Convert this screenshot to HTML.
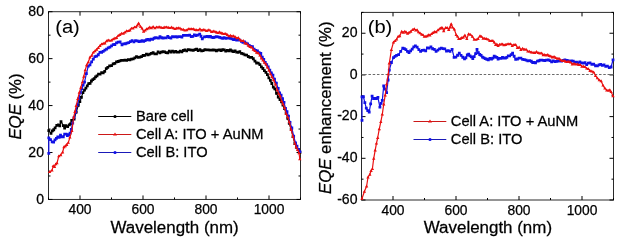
<!DOCTYPE html>
<html><head><meta charset="utf-8"><style>html,body{margin:0;padding:0;background:#fff;width:619px;height:241px;overflow:hidden}svg{display:block;will-change:transform}text{font-family:"Liberation Sans",sans-serif}</style></head>
<body><svg width="619" height="241" viewBox="0 0 619 241">
<rect width="619" height="241" fill="#fff"/>
<rect x="48.5" y="11.7" width="252.0" height="187.75" fill="none" stroke="#2a2a2a" stroke-width="1"/>
<line x1="48.50" y1="199.45" x2="48.50" y2="197.45" stroke="#000" stroke-width="1"/>
<line x1="48.50" y1="11.7" x2="48.50" y2="13.7" stroke="#000" stroke-width="1"/>
<line x1="80.00" y1="199.45" x2="80.00" y2="195.45" stroke="#000" stroke-width="1"/>
<line x1="80.00" y1="11.7" x2="80.00" y2="15.7" stroke="#000" stroke-width="1"/>
<text transform="translate(80.00,214.40) scale(1.0,1)" stroke="#000" fill="#000" stroke-width="0.25" font-size="13.8" text-anchor="middle" >400</text>
<line x1="111.50" y1="199.45" x2="111.50" y2="197.45" stroke="#000" stroke-width="1"/>
<line x1="111.50" y1="11.7" x2="111.50" y2="13.7" stroke="#000" stroke-width="1"/>
<line x1="143.00" y1="199.45" x2="143.00" y2="195.45" stroke="#000" stroke-width="1"/>
<line x1="143.00" y1="11.7" x2="143.00" y2="15.7" stroke="#000" stroke-width="1"/>
<text transform="translate(143.00,214.40) scale(1.0,1)" stroke="#000" fill="#000" stroke-width="0.25" font-size="13.8" text-anchor="middle" >600</text>
<line x1="174.50" y1="199.45" x2="174.50" y2="197.45" stroke="#000" stroke-width="1"/>
<line x1="174.50" y1="11.7" x2="174.50" y2="13.7" stroke="#000" stroke-width="1"/>
<line x1="206.00" y1="199.45" x2="206.00" y2="195.45" stroke="#000" stroke-width="1"/>
<line x1="206.00" y1="11.7" x2="206.00" y2="15.7" stroke="#000" stroke-width="1"/>
<text transform="translate(206.00,214.40) scale(1.0,1)" stroke="#000" fill="#000" stroke-width="0.25" font-size="13.8" text-anchor="middle" >800</text>
<line x1="237.50" y1="199.45" x2="237.50" y2="197.45" stroke="#000" stroke-width="1"/>
<line x1="237.50" y1="11.7" x2="237.50" y2="13.7" stroke="#000" stroke-width="1"/>
<line x1="269.00" y1="199.45" x2="269.00" y2="195.45" stroke="#000" stroke-width="1"/>
<line x1="269.00" y1="11.7" x2="269.00" y2="15.7" stroke="#000" stroke-width="1"/>
<text transform="translate(269.00,214.40) scale(1.0,1)" stroke="#000" fill="#000" stroke-width="0.25" font-size="13.8" text-anchor="middle" >1000</text>
<line x1="300.50" y1="199.45" x2="300.50" y2="197.45" stroke="#000" stroke-width="1"/>
<line x1="300.50" y1="11.7" x2="300.50" y2="13.7" stroke="#000" stroke-width="1"/>
<line x1="48.5" y1="199.45" x2="52.5" y2="199.45" stroke="#000" stroke-width="1"/>
<line x1="300.5" y1="199.45" x2="296.5" y2="199.45" stroke="#000" stroke-width="1"/>
<text transform="translate(44.00,204.05) scale(1.02,1)" stroke="#000" fill="#000" stroke-width="0.25" font-size="13.8" text-anchor="end" >0</text>
<line x1="48.5" y1="175.98" x2="50.5" y2="175.98" stroke="#000" stroke-width="1"/>
<line x1="300.5" y1="175.98" x2="298.5" y2="175.98" stroke="#000" stroke-width="1"/>
<line x1="48.5" y1="152.51" x2="52.5" y2="152.51" stroke="#000" stroke-width="1"/>
<line x1="300.5" y1="152.51" x2="296.5" y2="152.51" stroke="#000" stroke-width="1"/>
<text transform="translate(44.00,157.11) scale(1.02,1)" stroke="#000" fill="#000" stroke-width="0.25" font-size="13.8" text-anchor="end" >20</text>
<line x1="48.5" y1="129.04" x2="50.5" y2="129.04" stroke="#000" stroke-width="1"/>
<line x1="300.5" y1="129.04" x2="298.5" y2="129.04" stroke="#000" stroke-width="1"/>
<line x1="48.5" y1="105.57" x2="52.5" y2="105.57" stroke="#000" stroke-width="1"/>
<line x1="300.5" y1="105.57" x2="296.5" y2="105.57" stroke="#000" stroke-width="1"/>
<text transform="translate(44.00,110.17) scale(1.02,1)" stroke="#000" fill="#000" stroke-width="0.25" font-size="13.8" text-anchor="end" >40</text>
<line x1="48.5" y1="82.11" x2="50.5" y2="82.11" stroke="#000" stroke-width="1"/>
<line x1="300.5" y1="82.11" x2="298.5" y2="82.11" stroke="#000" stroke-width="1"/>
<line x1="48.5" y1="58.64" x2="52.5" y2="58.64" stroke="#000" stroke-width="1"/>
<line x1="300.5" y1="58.64" x2="296.5" y2="58.64" stroke="#000" stroke-width="1"/>
<text transform="translate(44.00,63.24) scale(1.02,1)" stroke="#000" fill="#000" stroke-width="0.25" font-size="13.8" text-anchor="end" >60</text>
<line x1="48.5" y1="35.17" x2="50.5" y2="35.17" stroke="#000" stroke-width="1"/>
<line x1="300.5" y1="35.17" x2="298.5" y2="35.17" stroke="#000" stroke-width="1"/>
<line x1="48.5" y1="11.70" x2="52.5" y2="11.70" stroke="#000" stroke-width="1"/>
<line x1="300.5" y1="11.70" x2="296.5" y2="11.70" stroke="#000" stroke-width="1"/>
<text transform="translate(44.00,16.30) scale(1.02,1)" stroke="#000" fill="#000" stroke-width="0.25" font-size="13.8" text-anchor="end" >80</text>
<path d="M48.80,130.66 L51.00,133.46 L52.37,130.87 L53.73,129.74 L55.10,127.85 L56.80,125.44 L58.50,124.85 L59.75,125.76 L61.00,121.63 L63.40,125.64 L64.65,127.98 L65.90,125.69 L67.60,126.61 L69.30,124.91 L70.50,123.80 L71.70,120.34 L74.10,119.04 L76.20,112.16 L78.30,105.34 L79.85,101.58 L81.40,97.31 L82.95,92.57 L84.50,90.16 L85.90,88.13 L87.30,85.88 L88.70,83.66 L90.07,83.42 L91.43,80.98 L92.80,79.69 L94.20,78.62 L95.60,76.95 L97.00,75.96 L98.55,74.21 L100.10,74.14 L101.65,72.70 L103.20,72.78 L104.73,71.35 L106.27,68.61 L107.80,67.34 L109.65,65.89 L111.50,65.64 L113.17,63.86 L114.85,63.38 L116.53,61.97 L118.20,61.51 L119.90,60.89 L121.60,60.43 L123.30,60.45 L125.00,60.05 L126.63,60.33 L128.27,59.63 L129.90,59.77 L131.56,59.19 L133.21,58.97 L134.87,57.94 L136.52,56.57 L138.18,57.37 L139.83,57.10 L141.49,56.54 L143.14,55.48 L144.80,55.28 L146.47,54.10 L148.13,54.94 L149.80,54.20 L151.47,53.40 L153.13,52.73 L154.80,53.87 L156.47,53.84 L158.13,51.94 L159.80,52.94 L161.39,52.18 L162.98,51.65 L164.56,51.84 L166.15,52.63 L167.74,52.76 L169.32,51.20 L170.91,52.17 L172.50,51.08 L174.06,52.14 L175.62,51.30 L177.19,52.14 L178.75,52.17 L180.31,51.16 L181.88,51.90 L183.44,50.51 L185.00,49.94 L186.66,50.79 L188.31,49.68 L189.97,49.89 L191.62,50.18 L193.28,50.45 L194.93,49.55 L196.59,49.25 L198.24,50.65 L199.90,49.56 L201.57,50.73 L203.23,50.61 L204.90,49.68 L206.57,49.83 L208.23,49.94 L209.90,50.16 L211.57,50.07 L213.23,50.01 L214.90,50.12 L216.45,50.76 L218.00,50.04 L219.55,49.96 L221.10,50.55 L222.65,49.74 L224.20,49.92 L225.75,51.20 L227.30,50.44 L228.86,50.74 L230.43,50.02 L231.99,51.00 L233.55,51.54 L235.11,50.79 L236.68,52.11 L238.24,52.39 L239.80,51.61 L241.50,53.38 L243.20,53.84 L244.90,54.97 L246.60,55.13 L248.30,56.52 L250.00,57.33 L251.65,57.36 L253.30,58.74 L254.95,61.17 L256.60,63.00 L258.25,63.04 L259.90,64.72 L261.40,66.97 L262.90,68.48 L264.40,70.56 L265.90,72.46 L267.40,74.56 L268.88,77.95 L270.36,80.40 L271.84,83.52 L273.32,87.21 L274.80,88.85 L276.53,93.26 L278.27,96.99 L280.00,99.66 L281.50,101.75 L283.00,105.05 L284.57,108.65 L286.15,113.19 L287.73,118.26 L289.30,123.36 L291.17,129.22 L293.03,136.55 L294.90,143.50 L296.57,147.30 L298.23,149.49 L299.90,152.50" fill="none" stroke="#000" stroke-width="1.2" stroke-linejoin="round"/>
<path d="M47.40,129.26h2.80v2.80h-2.80ZM49.60,132.06h2.80v2.80h-2.80ZM50.97,129.47h2.80v2.80h-2.80ZM52.33,128.34h2.80v2.80h-2.80ZM53.70,126.45h2.80v2.80h-2.80ZM55.40,124.04h2.80v2.80h-2.80ZM57.10,123.45h2.80v2.80h-2.80ZM58.35,124.36h2.80v2.80h-2.80ZM59.60,120.23h2.80v2.80h-2.80ZM62.00,124.24h2.80v2.80h-2.80ZM63.25,126.58h2.80v2.80h-2.80ZM64.50,124.29h2.80v2.80h-2.80ZM66.20,125.21h2.80v2.80h-2.80ZM67.90,123.51h2.80v2.80h-2.80ZM69.10,122.40h2.80v2.80h-2.80ZM70.30,118.94h2.80v2.80h-2.80ZM72.70,117.64h2.80v2.80h-2.80ZM74.80,110.76h2.80v2.80h-2.80ZM76.90,103.94h2.80v2.80h-2.80ZM78.45,100.18h2.80v2.80h-2.80ZM80.00,95.91h2.80v2.80h-2.80ZM81.55,91.17h2.80v2.80h-2.80ZM83.10,88.76h2.80v2.80h-2.80ZM84.50,86.73h2.80v2.80h-2.80ZM85.90,84.48h2.80v2.80h-2.80ZM87.30,82.26h2.80v2.80h-2.80ZM88.67,82.02h2.80v2.80h-2.80ZM90.03,79.58h2.80v2.80h-2.80ZM91.40,78.29h2.80v2.80h-2.80ZM92.80,77.22h2.80v2.80h-2.80ZM94.20,75.55h2.80v2.80h-2.80ZM95.60,74.56h2.80v2.80h-2.80ZM97.15,72.81h2.80v2.80h-2.80ZM98.70,72.74h2.80v2.80h-2.80ZM100.25,71.30h2.80v2.80h-2.80ZM101.80,71.38h2.80v2.80h-2.80ZM103.33,69.95h2.80v2.80h-2.80ZM104.87,67.21h2.80v2.80h-2.80ZM106.40,65.94h2.80v2.80h-2.80ZM108.25,64.49h2.80v2.80h-2.80ZM110.10,64.24h2.80v2.80h-2.80ZM111.77,62.46h2.80v2.80h-2.80ZM113.45,61.98h2.80v2.80h-2.80ZM115.12,60.57h2.80v2.80h-2.80ZM116.80,60.11h2.80v2.80h-2.80ZM118.50,59.49h2.80v2.80h-2.80ZM120.20,59.03h2.80v2.80h-2.80ZM121.90,59.05h2.80v2.80h-2.80ZM123.60,58.65h2.80v2.80h-2.80ZM125.23,58.93h2.80v2.80h-2.80ZM126.87,58.23h2.80v2.80h-2.80ZM128.50,58.37h2.80v2.80h-2.80ZM130.16,57.79h2.80v2.80h-2.80ZM131.81,57.57h2.80v2.80h-2.80ZM133.47,56.54h2.80v2.80h-2.80ZM135.12,55.17h2.80v2.80h-2.80ZM136.78,55.97h2.80v2.80h-2.80ZM138.43,55.70h2.80v2.80h-2.80ZM140.09,55.14h2.80v2.80h-2.80ZM141.74,54.08h2.80v2.80h-2.80ZM143.40,53.88h2.80v2.80h-2.80ZM145.07,52.70h2.80v2.80h-2.80ZM146.73,53.54h2.80v2.80h-2.80ZM148.40,52.80h2.80v2.80h-2.80ZM150.07,52.00h2.80v2.80h-2.80ZM151.73,51.33h2.80v2.80h-2.80ZM153.40,52.47h2.80v2.80h-2.80ZM155.07,52.44h2.80v2.80h-2.80ZM156.73,50.54h2.80v2.80h-2.80ZM158.40,51.54h2.80v2.80h-2.80ZM159.99,50.78h2.80v2.80h-2.80ZM161.58,50.25h2.80v2.80h-2.80ZM163.16,50.44h2.80v2.80h-2.80ZM164.75,51.23h2.80v2.80h-2.80ZM166.34,51.36h2.80v2.80h-2.80ZM167.92,49.80h2.80v2.80h-2.80ZM169.51,50.77h2.80v2.80h-2.80ZM171.10,49.68h2.80v2.80h-2.80ZM172.66,50.74h2.80v2.80h-2.80ZM174.22,49.90h2.80v2.80h-2.80ZM175.79,50.74h2.80v2.80h-2.80ZM177.35,50.77h2.80v2.80h-2.80ZM178.91,49.76h2.80v2.80h-2.80ZM180.47,50.50h2.80v2.80h-2.80ZM182.04,49.11h2.80v2.80h-2.80ZM183.60,48.54h2.80v2.80h-2.80ZM185.26,49.39h2.80v2.80h-2.80ZM186.91,48.28h2.80v2.80h-2.80ZM188.57,48.49h2.80v2.80h-2.80ZM190.22,48.78h2.80v2.80h-2.80ZM191.88,49.05h2.80v2.80h-2.80ZM193.53,48.15h2.80v2.80h-2.80ZM195.19,47.85h2.80v2.80h-2.80ZM196.84,49.25h2.80v2.80h-2.80ZM198.50,48.16h2.80v2.80h-2.80ZM200.17,49.33h2.80v2.80h-2.80ZM201.83,49.21h2.80v2.80h-2.80ZM203.50,48.28h2.80v2.80h-2.80ZM205.17,48.43h2.80v2.80h-2.80ZM206.83,48.54h2.80v2.80h-2.80ZM208.50,48.76h2.80v2.80h-2.80ZM210.17,48.67h2.80v2.80h-2.80ZM211.83,48.61h2.80v2.80h-2.80ZM213.50,48.72h2.80v2.80h-2.80ZM215.05,49.36h2.80v2.80h-2.80ZM216.60,48.64h2.80v2.80h-2.80ZM218.15,48.56h2.80v2.80h-2.80ZM219.70,49.15h2.80v2.80h-2.80ZM221.25,48.34h2.80v2.80h-2.80ZM222.80,48.52h2.80v2.80h-2.80ZM224.35,49.80h2.80v2.80h-2.80ZM225.90,49.04h2.80v2.80h-2.80ZM227.46,49.34h2.80v2.80h-2.80ZM229.03,48.62h2.80v2.80h-2.80ZM230.59,49.60h2.80v2.80h-2.80ZM232.15,50.14h2.80v2.80h-2.80ZM233.71,49.39h2.80v2.80h-2.80ZM235.28,50.71h2.80v2.80h-2.80ZM236.84,50.99h2.80v2.80h-2.80ZM238.40,50.21h2.80v2.80h-2.80ZM240.10,51.98h2.80v2.80h-2.80ZM241.80,52.44h2.80v2.80h-2.80ZM243.50,53.57h2.80v2.80h-2.80ZM245.20,53.73h2.80v2.80h-2.80ZM246.90,55.12h2.80v2.80h-2.80ZM248.60,55.93h2.80v2.80h-2.80ZM250.25,55.96h2.80v2.80h-2.80ZM251.90,57.34h2.80v2.80h-2.80ZM253.55,59.77h2.80v2.80h-2.80ZM255.20,61.60h2.80v2.80h-2.80ZM256.85,61.64h2.80v2.80h-2.80ZM258.50,63.32h2.80v2.80h-2.80ZM260.00,65.57h2.80v2.80h-2.80ZM261.50,67.08h2.80v2.80h-2.80ZM263.00,69.16h2.80v2.80h-2.80ZM264.50,71.06h2.80v2.80h-2.80ZM266.00,73.16h2.80v2.80h-2.80ZM267.48,76.55h2.80v2.80h-2.80ZM268.96,79.00h2.80v2.80h-2.80ZM270.44,82.12h2.80v2.80h-2.80ZM271.92,85.81h2.80v2.80h-2.80ZM273.40,87.45h2.80v2.80h-2.80ZM275.13,91.86h2.80v2.80h-2.80ZM276.87,95.59h2.80v2.80h-2.80ZM278.60,98.26h2.80v2.80h-2.80ZM280.10,100.35h2.80v2.80h-2.80ZM281.60,103.65h2.80v2.80h-2.80ZM283.18,107.25h2.80v2.80h-2.80ZM284.75,111.79h2.80v2.80h-2.80ZM286.33,116.86h2.80v2.80h-2.80ZM287.90,121.96h2.80v2.80h-2.80ZM289.77,127.82h2.80v2.80h-2.80ZM291.63,135.15h2.80v2.80h-2.80ZM293.50,142.10h2.80v2.80h-2.80ZM295.17,145.90h2.80v2.80h-2.80ZM296.83,148.09h2.80v2.80h-2.80ZM298.50,151.10h2.80v2.80h-2.80Z" fill="#000"/>
<path d="M48.80,153.28 L48.80,137.81 L50.50,139.61 L52.20,141.94 L53.60,142.09 L55.00,139.82 L56.40,138.31 L57.77,136.90 L59.13,137.34 L60.50,135.09 L61.90,136.97 L63.30,136.75 L64.70,134.06 L66.07,134.04 L67.43,135.57 L68.80,134.61 L70.05,133.15 L71.30,129.44 L72.70,123.18 L74.10,117.33 L75.70,112.03 L77.30,104.89 L78.85,98.77 L80.40,92.65 L81.77,88.86 L83.13,85.04 L84.50,82.16 L86.40,73.58 L88.30,66.11 L89.97,64.86 L91.63,61.82 L93.30,59.08 L94.97,56.68 L96.63,56.21 L98.30,54.77 L99.93,52.40 L101.57,52.24 L103.20,51.31 L104.88,50.17 L106.55,49.08 L108.23,47.85 L109.90,47.11 L111.55,45.88 L113.20,44.57 L114.85,44.48 L116.50,42.92 L118.20,42.16 L120.10,41.98 L122.00,44.73 L123.68,43.85 L125.36,43.76 L127.04,43.21 L128.72,42.72 L130.40,41.64 L132.12,40.57 L133.83,41.84 L135.55,40.76 L137.27,40.94 L138.98,41.54 L140.70,41.24 L142.19,40.76 L143.67,41.42 L145.16,40.54 L146.64,39.77 L148.13,39.33 L149.61,40.14 L151.10,39.16 L152.58,39.37 L154.07,38.27 L155.55,37.66 L157.03,37.93 L158.52,38.10 L160.00,36.61 L161.56,37.75 L163.12,38.01 L164.69,37.83 L166.25,37.88 L167.81,36.44 L169.38,37.58 L170.94,38.03 L172.50,36.59 L174.06,36.84 L175.62,36.68 L177.19,37.00 L178.75,36.66 L180.31,36.60 L181.88,37.00 L183.44,35.45 L185.00,35.40 L186.56,35.44 L188.12,35.35 L189.69,35.16 L191.25,36.70 L192.81,36.40 L194.38,34.93 L195.94,35.59 L197.50,35.17 L199.70,34.17 L201.00,36.23 L202.30,38.76 L204.50,36.96 L205.99,36.64 L207.47,36.42 L208.96,36.75 L210.44,36.47 L211.93,37.33 L213.41,37.70 L214.90,37.18 L216.45,36.72 L218.00,36.97 L219.55,37.40 L221.10,37.89 L222.65,38.28 L224.20,37.63 L225.75,38.47 L227.30,38.22 L228.86,38.19 L230.43,38.40 L231.99,38.93 L233.55,39.62 L235.11,39.42 L236.68,40.22 L238.24,40.12 L239.80,40.04 L241.37,41.28 L242.94,42.28 L244.51,41.87 L246.09,43.22 L247.66,43.94 L249.23,45.47 L250.80,46.29 L252.47,46.72 L254.13,49.12 L255.80,50.37 L257.47,50.87 L259.13,52.69 L260.80,53.52 L262.28,57.24 L263.76,59.45 L265.24,62.34 L266.72,64.65 L268.20,66.90 L269.77,70.12 L271.35,72.91 L272.93,75.19 L274.50,79.16 L276.35,83.11 L278.20,88.36 L279.65,92.99 L281.10,95.18 L282.55,98.77 L284.00,102.28 L285.50,108.36 L287.00,111.77 L288.50,116.17 L290.00,122.31 L291.83,127.98 L293.67,136.25 L295.50,142.91 L296.97,146.21 L298.43,149.41 L299.90,151.60" fill="none" stroke="#1010e6" stroke-width="1.2" stroke-linejoin="round"/>
<path d="M47.40,151.88h2.80v2.80h-2.80ZM47.40,136.41h2.80v2.80h-2.80ZM49.10,138.21h2.80v2.80h-2.80ZM50.80,140.54h2.80v2.80h-2.80ZM52.20,140.69h2.80v2.80h-2.80ZM53.60,138.42h2.80v2.80h-2.80ZM55.00,136.91h2.80v2.80h-2.80ZM56.37,135.50h2.80v2.80h-2.80ZM57.73,135.94h2.80v2.80h-2.80ZM59.10,133.69h2.80v2.80h-2.80ZM60.50,135.57h2.80v2.80h-2.80ZM61.90,135.35h2.80v2.80h-2.80ZM63.30,132.66h2.80v2.80h-2.80ZM64.67,132.64h2.80v2.80h-2.80ZM66.03,134.17h2.80v2.80h-2.80ZM67.40,133.21h2.80v2.80h-2.80ZM68.65,131.75h2.80v2.80h-2.80ZM69.90,128.04h2.80v2.80h-2.80ZM71.30,121.78h2.80v2.80h-2.80ZM72.70,115.93h2.80v2.80h-2.80ZM74.30,110.63h2.80v2.80h-2.80ZM75.90,103.49h2.80v2.80h-2.80ZM77.45,97.37h2.80v2.80h-2.80ZM79.00,91.25h2.80v2.80h-2.80ZM80.37,87.46h2.80v2.80h-2.80ZM81.73,83.64h2.80v2.80h-2.80ZM83.10,80.76h2.80v2.80h-2.80ZM85.00,72.18h2.80v2.80h-2.80ZM86.90,64.71h2.80v2.80h-2.80ZM88.57,63.46h2.80v2.80h-2.80ZM90.23,60.42h2.80v2.80h-2.80ZM91.90,57.68h2.80v2.80h-2.80ZM93.57,55.28h2.80v2.80h-2.80ZM95.23,54.81h2.80v2.80h-2.80ZM96.90,53.37h2.80v2.80h-2.80ZM98.53,51.00h2.80v2.80h-2.80ZM100.17,50.84h2.80v2.80h-2.80ZM101.80,49.91h2.80v2.80h-2.80ZM103.47,48.77h2.80v2.80h-2.80ZM105.15,47.68h2.80v2.80h-2.80ZM106.83,46.45h2.80v2.80h-2.80ZM108.50,45.71h2.80v2.80h-2.80ZM110.15,44.48h2.80v2.80h-2.80ZM111.80,43.17h2.80v2.80h-2.80ZM113.45,43.08h2.80v2.80h-2.80ZM115.10,41.52h2.80v2.80h-2.80ZM116.80,40.76h2.80v2.80h-2.80ZM118.70,40.58h2.80v2.80h-2.80ZM120.60,43.33h2.80v2.80h-2.80ZM122.28,42.45h2.80v2.80h-2.80ZM123.96,42.36h2.80v2.80h-2.80ZM125.64,41.81h2.80v2.80h-2.80ZM127.32,41.32h2.80v2.80h-2.80ZM129.00,40.24h2.80v2.80h-2.80ZM130.72,39.17h2.80v2.80h-2.80ZM132.43,40.44h2.80v2.80h-2.80ZM134.15,39.36h2.80v2.80h-2.80ZM135.87,39.54h2.80v2.80h-2.80ZM137.58,40.14h2.80v2.80h-2.80ZM139.30,39.84h2.80v2.80h-2.80ZM140.79,39.36h2.80v2.80h-2.80ZM142.27,40.02h2.80v2.80h-2.80ZM143.76,39.14h2.80v2.80h-2.80ZM145.24,38.37h2.80v2.80h-2.80ZM146.73,37.93h2.80v2.80h-2.80ZM148.21,38.74h2.80v2.80h-2.80ZM149.70,37.76h2.80v2.80h-2.80ZM151.18,37.97h2.80v2.80h-2.80ZM152.67,36.87h2.80v2.80h-2.80ZM154.15,36.26h2.80v2.80h-2.80ZM155.63,36.53h2.80v2.80h-2.80ZM157.12,36.70h2.80v2.80h-2.80ZM158.60,35.21h2.80v2.80h-2.80ZM160.16,36.35h2.80v2.80h-2.80ZM161.72,36.61h2.80v2.80h-2.80ZM163.29,36.43h2.80v2.80h-2.80ZM164.85,36.48h2.80v2.80h-2.80ZM166.41,35.04h2.80v2.80h-2.80ZM167.97,36.18h2.80v2.80h-2.80ZM169.54,36.63h2.80v2.80h-2.80ZM171.10,35.19h2.80v2.80h-2.80ZM172.66,35.44h2.80v2.80h-2.80ZM174.22,35.28h2.80v2.80h-2.80ZM175.79,35.60h2.80v2.80h-2.80ZM177.35,35.26h2.80v2.80h-2.80ZM178.91,35.20h2.80v2.80h-2.80ZM180.47,35.60h2.80v2.80h-2.80ZM182.04,34.05h2.80v2.80h-2.80ZM183.60,34.00h2.80v2.80h-2.80ZM185.16,34.04h2.80v2.80h-2.80ZM186.72,33.95h2.80v2.80h-2.80ZM188.29,33.76h2.80v2.80h-2.80ZM189.85,35.30h2.80v2.80h-2.80ZM191.41,35.00h2.80v2.80h-2.80ZM192.97,33.53h2.80v2.80h-2.80ZM194.54,34.19h2.80v2.80h-2.80ZM196.10,33.77h2.80v2.80h-2.80ZM198.30,32.77h2.80v2.80h-2.80ZM199.60,34.83h2.80v2.80h-2.80ZM200.90,37.36h2.80v2.80h-2.80ZM203.10,35.56h2.80v2.80h-2.80ZM204.59,35.24h2.80v2.80h-2.80ZM206.07,35.02h2.80v2.80h-2.80ZM207.56,35.35h2.80v2.80h-2.80ZM209.04,35.07h2.80v2.80h-2.80ZM210.53,35.93h2.80v2.80h-2.80ZM212.01,36.30h2.80v2.80h-2.80ZM213.50,35.78h2.80v2.80h-2.80ZM215.05,35.32h2.80v2.80h-2.80ZM216.60,35.57h2.80v2.80h-2.80ZM218.15,36.00h2.80v2.80h-2.80ZM219.70,36.49h2.80v2.80h-2.80ZM221.25,36.88h2.80v2.80h-2.80ZM222.80,36.23h2.80v2.80h-2.80ZM224.35,37.07h2.80v2.80h-2.80ZM225.90,36.82h2.80v2.80h-2.80ZM227.46,36.79h2.80v2.80h-2.80ZM229.03,37.00h2.80v2.80h-2.80ZM230.59,37.53h2.80v2.80h-2.80ZM232.15,38.22h2.80v2.80h-2.80ZM233.71,38.02h2.80v2.80h-2.80ZM235.28,38.82h2.80v2.80h-2.80ZM236.84,38.72h2.80v2.80h-2.80ZM238.40,38.64h2.80v2.80h-2.80ZM239.97,39.88h2.80v2.80h-2.80ZM241.54,40.88h2.80v2.80h-2.80ZM243.11,40.47h2.80v2.80h-2.80ZM244.69,41.82h2.80v2.80h-2.80ZM246.26,42.54h2.80v2.80h-2.80ZM247.83,44.07h2.80v2.80h-2.80ZM249.40,44.89h2.80v2.80h-2.80ZM251.07,45.32h2.80v2.80h-2.80ZM252.73,47.72h2.80v2.80h-2.80ZM254.40,48.97h2.80v2.80h-2.80ZM256.07,49.47h2.80v2.80h-2.80ZM257.73,51.29h2.80v2.80h-2.80ZM259.40,52.12h2.80v2.80h-2.80ZM260.88,55.84h2.80v2.80h-2.80ZM262.36,58.05h2.80v2.80h-2.80ZM263.84,60.94h2.80v2.80h-2.80ZM265.32,63.25h2.80v2.80h-2.80ZM266.80,65.50h2.80v2.80h-2.80ZM268.38,68.72h2.80v2.80h-2.80ZM269.95,71.51h2.80v2.80h-2.80ZM271.53,73.79h2.80v2.80h-2.80ZM273.10,77.76h2.80v2.80h-2.80ZM274.95,81.71h2.80v2.80h-2.80ZM276.80,86.96h2.80v2.80h-2.80ZM278.25,91.59h2.80v2.80h-2.80ZM279.70,93.78h2.80v2.80h-2.80ZM281.15,97.37h2.80v2.80h-2.80ZM282.60,100.88h2.80v2.80h-2.80ZM284.10,106.96h2.80v2.80h-2.80ZM285.60,110.37h2.80v2.80h-2.80ZM287.10,114.77h2.80v2.80h-2.80ZM288.60,120.91h2.80v2.80h-2.80ZM290.43,126.58h2.80v2.80h-2.80ZM292.27,134.85h2.80v2.80h-2.80ZM294.10,141.51h2.80v2.80h-2.80ZM295.57,144.81h2.80v2.80h-2.80ZM297.03,148.01h2.80v2.80h-2.80ZM298.50,150.20h2.80v2.80h-2.80Z" fill="#1010e6"/>
<path d="M49.60,171.78 L52.00,170.38 L53.25,165.88 L54.50,166.76 L55.75,164.09 L57.00,163.07 L58.80,156.08 L60.70,155.00 L62.60,152.26 L63.97,147.05 L65.33,145.93 L66.70,144.73 L68.30,142.58 L69.90,137.37 L71.90,130.85 L73.70,117.25 L74.95,111.71 L76.20,105.76 L77.75,98.86 L79.30,92.56 L80.85,87.41 L82.40,82.13 L83.83,76.45 L85.27,70.05 L86.70,65.00 L88.35,62.05 L90.00,57.24 L91.67,55.61 L93.33,52.32 L95.00,51.04 L96.65,49.51 L98.30,47.71 L99.95,45.78 L101.60,44.07 L103.25,43.53 L104.90,43.17 L106.55,40.99 L108.20,40.07 L109.88,40.62 L111.55,40.30 L113.23,38.96 L114.90,38.20 L116.55,37.64 L118.20,35.63 L119.85,34.73 L121.50,33.56 L123.25,33.45 L125.00,32.17 L126.63,31.02 L128.27,30.84 L129.90,30.32 L131.43,28.38 L132.95,28.37 L134.47,27.09 L136.00,27.14 L137.30,25.25 L138.60,23.28 L140.50,26.49 L142.05,28.39 L143.60,31.46 L145.15,30.29 L146.70,28.91 L148.25,28.25 L149.80,27.18 L151.47,27.91 L153.13,26.69 L154.80,28.13 L156.47,27.13 L158.13,27.26 L159.80,26.94 L161.50,27.64 L163.20,27.65 L164.90,27.20 L166.60,27.10 L168.30,27.56 L170.00,27.84 L171.67,27.28 L173.33,28.13 L175.00,28.80 L176.67,28.16 L178.33,27.99 L180.00,28.26 L181.67,29.38 L183.33,29.56 L185.00,30.33 L186.66,30.13 L188.31,29.01 L189.97,28.91 L191.62,29.02 L193.28,28.88 L194.93,29.80 L196.59,30.07 L198.24,30.13 L199.90,28.96 L201.57,30.32 L203.23,29.60 L204.90,30.06 L206.57,30.88 L208.23,29.99 L209.90,30.27 L211.57,31.87 L213.23,31.16 L214.90,31.54 L216.45,32.29 L218.00,32.82 L219.55,31.96 L221.10,32.90 L222.65,33.44 L224.20,33.87 L225.75,33.73 L227.30,34.75 L228.88,35.96 L230.45,35.48 L232.03,36.29 L233.60,36.06 L235.18,36.88 L236.75,38.12 L238.33,37.67 L239.90,39.60 L241.58,40.85 L243.27,40.61 L244.95,43.34 L246.63,43.54 L248.32,45.47 L250.00,46.66 L251.65,47.28 L253.30,49.42 L254.95,50.83 L256.60,52.55 L258.25,53.03 L259.90,55.36 L261.40,58.21 L262.90,60.17 L264.40,62.41 L265.90,64.12 L267.40,67.29 L268.95,70.16 L270.50,73.94 L272.05,77.00 L273.60,79.92 L275.45,84.18 L277.30,89.96 L278.73,93.44 L280.15,96.12 L281.57,100.90 L283.00,103.98 L284.57,107.70 L286.15,113.83 L287.73,117.08 L289.30,122.10 L291.17,129.76 L293.03,136.51 L294.90,143.40 L296.27,146.90 L297.63,149.89 L299.00,152.96 L299.80,159.00" fill="none" stroke="#ea1010" stroke-width="1.2" stroke-linejoin="round"/>
<path d="M47.91,173.02L49.60,170.09L51.29,173.02ZM50.31,171.61L52.00,168.68L53.69,171.61ZM51.56,167.11L53.25,164.19L54.94,167.11ZM52.81,167.99L54.50,165.07L56.19,167.99ZM54.06,165.32L55.75,162.40L57.44,165.32ZM55.31,164.31L57.00,161.38L58.69,164.31ZM57.11,157.32L58.80,154.39L60.49,157.32ZM59.01,156.23L60.70,153.30L62.39,156.23ZM60.91,153.50L62.60,150.57L64.29,153.50ZM62.27,148.29L63.97,145.36L65.66,148.29ZM63.64,147.17L65.33,144.24L67.03,147.17ZM65.01,145.96L66.70,143.04L68.39,145.96ZM66.61,143.81L68.30,140.89L69.99,143.81ZM68.21,138.60L69.90,135.68L71.59,138.60ZM70.21,132.08L71.90,129.15L73.59,132.08ZM72.01,118.48L73.70,115.56L75.39,118.48ZM73.26,112.94L74.95,110.01L76.64,112.94ZM74.51,106.99L76.20,104.06L77.89,106.99ZM76.06,100.09L77.75,97.16L79.44,100.09ZM77.61,93.79L79.30,90.87L80.99,93.79ZM79.16,88.65L80.85,85.72L82.54,88.65ZM80.71,83.36L82.40,80.44L84.09,83.36ZM82.14,77.68L83.83,74.76L85.53,77.68ZM83.57,71.28L85.27,68.36L86.96,71.28ZM85.01,66.23L86.70,63.31L88.39,66.23ZM86.66,63.28L88.35,60.36L90.04,63.28ZM88.31,58.48L90.00,55.55L91.69,58.48ZM89.97,56.84L91.67,53.92L93.36,56.84ZM91.64,53.55L93.33,50.63L95.03,53.55ZM93.31,52.28L95.00,49.35L96.69,52.28ZM94.96,50.74L96.65,47.82L98.34,50.74ZM96.61,48.94L98.30,46.02L99.99,48.94ZM98.26,47.01L99.95,44.09L101.64,47.01ZM99.91,45.30L101.60,42.38L103.29,45.30ZM101.56,44.76L103.25,41.84L104.94,44.76ZM103.21,44.40L104.90,41.47L106.59,44.40ZM104.86,42.23L106.55,39.30L108.24,42.23ZM106.51,41.30L108.20,38.38L109.89,41.30ZM108.18,41.85L109.88,38.93L111.57,41.85ZM109.86,41.53L111.55,38.61L113.24,41.53ZM111.53,40.19L113.23,37.26L114.92,40.19ZM113.21,39.43L114.90,36.50L116.59,39.43ZM114.86,38.88L116.55,35.95L118.24,38.88ZM116.51,36.87L118.20,33.94L119.89,36.87ZM118.16,35.96L119.85,33.04L121.54,35.96ZM119.81,34.79L121.50,31.86L123.19,34.79ZM121.56,34.69L123.25,31.76L124.94,34.69ZM123.31,33.40L125.00,30.47L126.69,33.40ZM124.94,32.25L126.63,29.32L128.33,32.25ZM126.57,32.08L128.27,29.15L129.96,32.08ZM128.21,31.55L129.90,28.62L131.59,31.55ZM129.73,29.61L131.43,26.69L133.12,29.61ZM131.26,29.60L132.95,26.68L134.64,29.60ZM132.78,28.33L134.47,25.40L136.17,28.33ZM134.31,28.37L136.00,25.44L137.69,28.37ZM135.61,26.48L137.30,23.56L138.99,26.48ZM136.91,24.51L138.60,21.59L140.29,24.51ZM138.81,27.72L140.50,24.80L142.19,27.72ZM140.36,29.62L142.05,26.70L143.74,29.62ZM141.91,32.70L143.60,29.77L145.29,32.70ZM143.46,31.52L145.15,28.59L146.84,31.52ZM145.01,30.14L146.70,27.22L148.39,30.14ZM146.56,29.48L148.25,26.55L149.94,29.48ZM148.11,28.41L149.80,25.49L151.49,28.41ZM149.77,29.14L151.47,26.22L153.16,29.14ZM151.44,27.92L153.13,25.00L154.83,27.92ZM153.11,29.37L154.80,26.44L156.49,29.37ZM154.77,28.36L156.47,25.44L158.16,28.36ZM156.44,28.49L158.13,25.57L159.83,28.49ZM158.11,28.17L159.80,25.25L161.49,28.17ZM159.81,28.87L161.50,25.94L163.19,28.87ZM161.51,28.88L163.20,25.95L164.89,28.88ZM163.21,28.43L164.90,25.51L166.59,28.43ZM164.91,28.33L166.60,25.41L168.29,28.33ZM166.61,28.80L168.30,25.87L169.99,28.80ZM168.31,29.07L170.00,26.15L171.69,29.07ZM169.97,28.51L171.67,25.58L173.36,28.51ZM171.64,29.36L173.33,26.44L175.03,29.36ZM173.31,30.03L175.00,27.10L176.69,30.03ZM174.97,29.40L176.67,26.47L178.36,29.40ZM176.64,29.22L178.33,26.30L180.03,29.22ZM178.31,29.49L180.00,26.56L181.69,29.49ZM179.97,30.61L181.67,27.69L183.36,30.61ZM181.64,30.79L183.33,27.87L185.03,30.79ZM183.31,31.56L185.00,28.63L186.69,31.56ZM184.96,31.36L186.66,28.43L188.35,31.36ZM186.62,30.25L188.31,27.32L190.01,30.25ZM188.27,30.14L189.97,27.21L191.66,30.14ZM189.93,30.25L191.62,27.33L193.32,30.25ZM191.58,30.11L193.28,27.19L194.97,30.11ZM193.24,31.03L194.93,28.11L196.63,31.03ZM194.89,31.30L196.59,28.37L198.28,31.30ZM196.55,31.36L198.24,28.44L199.94,31.36ZM198.21,30.19L199.90,27.27L201.59,30.19ZM199.87,31.56L201.57,28.63L203.26,31.56ZM201.54,30.83L203.23,27.90L204.93,30.83ZM203.21,31.29L204.90,28.37L206.59,31.29ZM204.87,32.11L206.57,29.18L208.26,32.11ZM206.54,31.22L208.23,28.29L209.93,31.22ZM208.21,31.50L209.90,28.57L211.59,31.50ZM209.87,33.10L211.57,30.17L213.26,33.10ZM211.54,32.39L213.23,29.46L214.93,32.39ZM213.21,32.77L214.90,29.85L216.59,32.77ZM214.76,33.53L216.45,30.60L218.14,33.53ZM216.31,34.05L218.00,31.12L219.69,34.05ZM217.86,33.19L219.55,30.27L221.24,33.19ZM219.41,34.13L221.10,31.21L222.79,34.13ZM220.96,34.67L222.65,31.74L224.34,34.67ZM222.51,35.11L224.20,32.18L225.89,35.11ZM224.06,34.96L225.75,32.03L227.44,34.96ZM225.61,35.99L227.30,33.06L228.99,35.99ZM227.18,37.19L228.88,34.26L230.57,37.19ZM228.76,36.71L230.45,33.78L232.14,36.71ZM230.33,37.52L232.03,34.60L233.72,37.52ZM231.91,37.30L233.60,34.37L235.29,37.30ZM233.48,38.11L235.18,35.19L236.87,38.11ZM235.06,39.35L236.75,36.43L238.44,39.35ZM236.63,38.90L238.33,35.97L240.02,38.90ZM238.21,40.83L239.90,37.90L241.59,40.83ZM239.89,42.08L241.58,39.16L243.28,42.08ZM241.57,41.84L243.27,38.91L244.96,41.84ZM243.26,44.58L244.95,41.65L246.64,44.58ZM244.94,44.77L246.63,41.85L248.33,44.77ZM246.62,46.71L248.32,43.78L250.01,46.71ZM248.31,47.90L250.00,44.97L251.69,47.90ZM249.96,48.51L251.65,45.59L253.34,48.51ZM251.61,50.65L253.30,47.72L254.99,50.65ZM253.26,52.06L254.95,49.13L256.64,52.06ZM254.91,53.78L256.60,50.86L258.29,53.78ZM256.56,54.26L258.25,51.33L259.94,54.26ZM258.21,56.59L259.90,53.66L261.59,56.59ZM259.71,59.44L261.40,56.52L263.09,59.44ZM261.21,61.40L262.90,58.48L264.59,61.40ZM262.71,63.64L264.40,60.71L266.09,63.64ZM264.21,65.36L265.90,62.43L267.59,65.36ZM265.71,68.52L267.40,65.59L269.09,68.52ZM267.26,71.39L268.95,68.46L270.64,71.39ZM268.81,75.17L270.50,72.25L272.19,75.17ZM270.36,78.23L272.05,75.30L273.74,78.23ZM271.91,81.15L273.60,78.23L275.29,81.15ZM273.76,85.41L275.45,82.48L277.14,85.41ZM275.61,91.19L277.30,88.27L278.99,91.19ZM277.03,94.67L278.73,91.74L280.42,94.67ZM278.46,97.35L280.15,94.43L281.84,97.35ZM279.88,102.13L281.57,99.21L283.27,102.13ZM281.31,105.21L283.00,102.29L284.69,105.21ZM282.88,108.93L284.57,106.00L286.27,108.93ZM284.46,115.06L286.15,112.13L287.84,115.06ZM286.03,118.31L287.73,115.39L289.42,118.31ZM287.61,123.33L289.30,120.40L290.99,123.33ZM289.47,131.00L291.17,128.07L292.86,131.00ZM291.34,137.74L293.03,134.81L294.73,137.74ZM293.21,144.63L294.90,141.70L296.59,144.63ZM294.57,148.13L296.27,145.20L297.96,148.13ZM295.94,151.12L297.63,148.20L299.33,151.12ZM297.31,154.19L299.00,151.27L300.69,154.19ZM298.11,160.23L299.80,157.31L301.49,160.23Z" fill="#ea1010"/>
<text transform="translate(55.20,33.00) scale(1.05,1)" stroke="#000" fill="#000" stroke-width="0.05" font-size="19.2" text-anchor="start" >(a)</text>
<line x1="98.2" y1="116.50" x2="131.3" y2="116.50" stroke="#000" stroke-width="1"/>
<circle cx="115" cy="116.50" r="1.6" fill="#000"/>
<text transform="translate(136.00,121.20) scale(1.05,1)" stroke="#000" fill="#000" stroke-width="0.25" font-size="14" text-anchor="start" >Bare cell</text>
<line x1="98.2" y1="134.50" x2="131.3" y2="134.50" stroke="#cc1818" stroke-width="1"/>
<path d="M113.00,135.50L115.00,132.50L117.00,135.50Z" fill="#ea1010"/>
<text transform="translate(136.00,139.20) scale(1.05,1)" stroke="#000" fill="#000" stroke-width="0.25" font-size="14" text-anchor="start" >Cell A: ITO + AuNM</text>
<line x1="98.2" y1="152.50" x2="131.3" y2="152.50" stroke="#1a1ab8" stroke-width="1"/>
<circle cx="115" cy="152.50" r="1.6" fill="#1010e6"/>
<text transform="translate(136.00,157.20) scale(1.05,1)" stroke="#000" fill="#000" stroke-width="0.25" font-size="14" text-anchor="start" >Cell B: ITO</text>
<text transform="translate(174.60,233.00) scale(1.058,1)" stroke="#000" fill="#000" stroke-width="0.25" font-size="16" text-anchor="middle" >Wavelength (nm)</text>
<text transform="translate(21,106.5) rotate(-90) scale(1.05,1)" stroke="#000" fill="#000" stroke-width="0.25" font-size="16" text-anchor="middle"><tspan font-style="italic">EQE</tspan> (%)</text>
<rect x="361.5" y="12.4" width="252.0" height="187.6" fill="none" stroke="#2a2a2a" stroke-width="1"/>
<line x1="361.50" y1="200.0" x2="361.50" y2="198.0" stroke="#000" stroke-width="1"/>
<line x1="361.50" y1="12.4" x2="361.50" y2="14.4" stroke="#000" stroke-width="1"/>
<line x1="393.00" y1="200.0" x2="393.00" y2="196.0" stroke="#000" stroke-width="1"/>
<line x1="393.00" y1="12.4" x2="393.00" y2="16.4" stroke="#000" stroke-width="1"/>
<text transform="translate(393.00,215.40) scale(1.0,1)" stroke="#000" fill="#000" stroke-width="0.25" font-size="13.8" text-anchor="middle" >400</text>
<line x1="424.50" y1="200.0" x2="424.50" y2="198.0" stroke="#000" stroke-width="1"/>
<line x1="424.50" y1="12.4" x2="424.50" y2="14.4" stroke="#000" stroke-width="1"/>
<line x1="456.00" y1="200.0" x2="456.00" y2="196.0" stroke="#000" stroke-width="1"/>
<line x1="456.00" y1="12.4" x2="456.00" y2="16.4" stroke="#000" stroke-width="1"/>
<text transform="translate(456.00,215.40) scale(1.0,1)" stroke="#000" fill="#000" stroke-width="0.25" font-size="13.8" text-anchor="middle" >600</text>
<line x1="487.50" y1="200.0" x2="487.50" y2="198.0" stroke="#000" stroke-width="1"/>
<line x1="487.50" y1="12.4" x2="487.50" y2="14.4" stroke="#000" stroke-width="1"/>
<line x1="519.00" y1="200.0" x2="519.00" y2="196.0" stroke="#000" stroke-width="1"/>
<line x1="519.00" y1="12.4" x2="519.00" y2="16.4" stroke="#000" stroke-width="1"/>
<text transform="translate(519.00,215.40) scale(1.0,1)" stroke="#000" fill="#000" stroke-width="0.25" font-size="13.8" text-anchor="middle" >800</text>
<line x1="550.50" y1="200.0" x2="550.50" y2="198.0" stroke="#000" stroke-width="1"/>
<line x1="550.50" y1="12.4" x2="550.50" y2="14.4" stroke="#000" stroke-width="1"/>
<line x1="582.00" y1="200.0" x2="582.00" y2="196.0" stroke="#000" stroke-width="1"/>
<line x1="582.00" y1="12.4" x2="582.00" y2="16.4" stroke="#000" stroke-width="1"/>
<text transform="translate(582.00,215.40) scale(1.0,1)" stroke="#000" fill="#000" stroke-width="0.25" font-size="13.8" text-anchor="middle" >1000</text>
<line x1="613.50" y1="200.0" x2="613.50" y2="198.0" stroke="#000" stroke-width="1"/>
<line x1="613.50" y1="12.4" x2="613.50" y2="14.4" stroke="#000" stroke-width="1"/>
<line x1="361.5" y1="200.00" x2="365.5" y2="200.00" stroke="#000" stroke-width="1"/>
<line x1="613.5" y1="200.00" x2="609.5" y2="200.00" stroke="#000" stroke-width="1"/>
<text transform="translate(357.50,203.80) scale(1.02,1)" stroke="#000" fill="#000" stroke-width="0.25" font-size="13.8" text-anchor="end" >-60</text>
<line x1="361.5" y1="179.16" x2="363.5" y2="179.16" stroke="#000" stroke-width="1"/>
<line x1="613.5" y1="179.16" x2="611.5" y2="179.16" stroke="#000" stroke-width="1"/>
<line x1="361.5" y1="158.31" x2="365.5" y2="158.31" stroke="#000" stroke-width="1"/>
<line x1="613.5" y1="158.31" x2="609.5" y2="158.31" stroke="#000" stroke-width="1"/>
<text transform="translate(357.50,162.11) scale(1.02,1)" stroke="#000" fill="#000" stroke-width="0.25" font-size="13.8" text-anchor="end" >-40</text>
<line x1="361.5" y1="137.47" x2="363.5" y2="137.47" stroke="#000" stroke-width="1"/>
<line x1="613.5" y1="137.47" x2="611.5" y2="137.47" stroke="#000" stroke-width="1"/>
<line x1="361.5" y1="116.62" x2="365.5" y2="116.62" stroke="#000" stroke-width="1"/>
<line x1="613.5" y1="116.62" x2="609.5" y2="116.62" stroke="#000" stroke-width="1"/>
<text transform="translate(357.50,120.42) scale(1.02,1)" stroke="#000" fill="#000" stroke-width="0.25" font-size="13.8" text-anchor="end" >-20</text>
<line x1="361.5" y1="95.78" x2="363.5" y2="95.78" stroke="#000" stroke-width="1"/>
<line x1="613.5" y1="95.78" x2="611.5" y2="95.78" stroke="#000" stroke-width="1"/>
<line x1="361.5" y1="74.93" x2="365.5" y2="74.93" stroke="#000" stroke-width="1"/>
<line x1="613.5" y1="74.93" x2="609.5" y2="74.93" stroke="#000" stroke-width="1"/>
<text transform="translate(357.50,78.73) scale(1.02,1)" stroke="#000" fill="#000" stroke-width="0.25" font-size="13.8" text-anchor="end" >0</text>
<line x1="361.5" y1="54.09" x2="363.5" y2="54.09" stroke="#000" stroke-width="1"/>
<line x1="613.5" y1="54.09" x2="611.5" y2="54.09" stroke="#000" stroke-width="1"/>
<line x1="361.5" y1="33.24" x2="365.5" y2="33.24" stroke="#000" stroke-width="1"/>
<line x1="613.5" y1="33.24" x2="609.5" y2="33.24" stroke="#000" stroke-width="1"/>
<text transform="translate(357.50,37.04) scale(1.02,1)" stroke="#000" fill="#000" stroke-width="0.25" font-size="13.8" text-anchor="end" >20</text>
<line x1="361.5" y1="12.40" x2="363.5" y2="12.40" stroke="#000" stroke-width="1"/>
<line x1="613.5" y1="12.40" x2="611.5" y2="12.40" stroke="#000" stroke-width="1"/>
<line x1="361.5" y1="74.5" x2="613.5" y2="74.5" stroke="#6a6a6a" stroke-width="1" stroke-dasharray="2.5 1.77" stroke-dashoffset="1.6"/>
<path d="M362.00,120.35 L362.00,96.94 L363.40,96.73 L364.85,102.66 L366.30,108.09 L367.75,110.63 L369.20,112.02 L370.65,103.83 L372.10,96.07 L373.55,98.50 L375.00,98.28 L376.45,98.51 L377.90,97.29 L379.90,107.04 L381.10,103.31 L382.30,100.37 L383.70,86.01 L385.15,89.18 L386.60,92.54 L388.10,80.01 L389.30,70.19 L391.40,62.52 L393.50,57.64 L395.05,56.30 L396.60,55.33 L398.60,54.56 L400.70,51.35 L402.80,48.17 L404.35,48.68 L405.90,49.63 L407.45,51.34 L409.00,52.53 L410.60,50.95 L412.20,49.18 L413.80,46.84 L415.40,45.90 L417.13,47.22 L418.87,49.62 L420.60,51.44 L422.30,50.37 L424.00,50.13 L425.70,50.86 L427.43,47.96 L429.17,48.11 L430.90,46.88 L432.63,48.73 L434.37,49.33 L436.10,51.41 L437.83,50.10 L439.57,48.83 L441.30,48.15 L443.03,48.61 L444.77,48.87 L446.50,51.02 L448.25,50.67 L450.00,51.30 L452.10,49.45 L454.10,57.40 L455.83,57.21 L457.57,55.26 L459.30,53.18 L461.03,55.31 L462.77,57.25 L464.50,58.79 L465.90,57.73 L467.30,55.01 L468.70,54.20 L470.07,55.89 L471.43,56.89 L472.80,58.53 L474.20,56.55 L475.60,53.65 L477.00,49.37 L478.37,52.75 L479.73,54.48 L481.10,55.40 L482.50,57.05 L483.90,57.83 L485.30,58.56 L486.85,59.23 L488.40,59.76 L489.95,58.30 L491.50,59.14 L492.87,58.09 L494.23,56.27 L495.60,57.02 L496.85,57.45 L498.10,59.05 L499.56,58.43 L501.02,58.28 L502.48,57.29 L503.94,58.01 L505.40,58.06 L506.84,57.28 L508.28,55.79 L509.72,55.79 L511.16,54.61 L512.60,53.22 L514.15,56.24 L515.70,59.46 L517.43,59.00 L519.17,58.22 L520.90,58.19 L522.63,59.30 L524.37,59.67 L526.10,60.14 L527.83,60.93 L529.57,60.58 L531.30,61.23 L532.70,62.51 L534.10,62.50 L535.50,62.76 L537.50,61.10 L538.96,60.74 L540.42,60.03 L541.88,60.04 L543.34,60.36 L544.80,60.49 L546.55,60.05 L548.30,59.91 L549.96,60.54 L551.62,61.91 L553.28,60.85 L554.94,61.70 L556.60,61.39 L558.26,61.20 L559.92,60.90 L561.58,61.15 L563.24,60.46 L564.90,59.95 L566.56,60.34 L568.22,60.68 L569.88,61.54 L571.54,60.90 L573.20,61.04 L574.86,62.10 L576.52,62.22 L578.18,63.01 L579.84,61.90 L581.50,62.81 L583.25,63.14 L585.00,62.75 L586.67,64.63 L588.33,63.14 L590.00,62.89 L591.85,64.25 L593.70,64.23 L595.55,65.74 L597.40,65.79 L599.07,64.95 L600.73,64.40 L602.40,65.36 L604.07,64.85 L605.73,66.28 L607.40,66.03 L609.25,67.62 L611.10,67.00 L613.00,59.90" fill="none" stroke="#1010e6" stroke-width="1.2" stroke-linejoin="round"/>
<path d="M360.60,118.95h2.80v2.80h-2.80ZM360.60,95.54h2.80v2.80h-2.80ZM362.00,95.33h2.80v2.80h-2.80ZM363.45,101.26h2.80v2.80h-2.80ZM364.90,106.69h2.80v2.80h-2.80ZM366.35,109.23h2.80v2.80h-2.80ZM367.80,110.62h2.80v2.80h-2.80ZM369.25,102.43h2.80v2.80h-2.80ZM370.70,94.67h2.80v2.80h-2.80ZM372.15,97.10h2.80v2.80h-2.80ZM373.60,96.88h2.80v2.80h-2.80ZM375.05,97.11h2.80v2.80h-2.80ZM376.50,95.89h2.80v2.80h-2.80ZM378.50,105.64h2.80v2.80h-2.80ZM379.70,101.91h2.80v2.80h-2.80ZM380.90,98.97h2.80v2.80h-2.80ZM382.30,84.61h2.80v2.80h-2.80ZM383.75,87.78h2.80v2.80h-2.80ZM385.20,91.14h2.80v2.80h-2.80ZM386.70,78.61h2.80v2.80h-2.80ZM387.90,68.79h2.80v2.80h-2.80ZM390.00,61.12h2.80v2.80h-2.80ZM392.10,56.24h2.80v2.80h-2.80ZM393.65,54.90h2.80v2.80h-2.80ZM395.20,53.93h2.80v2.80h-2.80ZM397.20,53.16h2.80v2.80h-2.80ZM399.30,49.95h2.80v2.80h-2.80ZM401.40,46.77h2.80v2.80h-2.80ZM402.95,47.28h2.80v2.80h-2.80ZM404.50,48.23h2.80v2.80h-2.80ZM406.05,49.94h2.80v2.80h-2.80ZM407.60,51.13h2.80v2.80h-2.80ZM409.20,49.55h2.80v2.80h-2.80ZM410.80,47.78h2.80v2.80h-2.80ZM412.40,45.44h2.80v2.80h-2.80ZM414.00,44.50h2.80v2.80h-2.80ZM415.73,45.82h2.80v2.80h-2.80ZM417.47,48.22h2.80v2.80h-2.80ZM419.20,50.04h2.80v2.80h-2.80ZM420.90,48.97h2.80v2.80h-2.80ZM422.60,48.73h2.80v2.80h-2.80ZM424.30,49.46h2.80v2.80h-2.80ZM426.03,46.56h2.80v2.80h-2.80ZM427.77,46.71h2.80v2.80h-2.80ZM429.50,45.48h2.80v2.80h-2.80ZM431.23,47.33h2.80v2.80h-2.80ZM432.97,47.93h2.80v2.80h-2.80ZM434.70,50.01h2.80v2.80h-2.80ZM436.43,48.70h2.80v2.80h-2.80ZM438.17,47.43h2.80v2.80h-2.80ZM439.90,46.75h2.80v2.80h-2.80ZM441.63,47.21h2.80v2.80h-2.80ZM443.37,47.47h2.80v2.80h-2.80ZM445.10,49.62h2.80v2.80h-2.80ZM446.85,49.27h2.80v2.80h-2.80ZM448.60,49.90h2.80v2.80h-2.80ZM450.70,48.05h2.80v2.80h-2.80ZM452.70,56.00h2.80v2.80h-2.80ZM454.43,55.81h2.80v2.80h-2.80ZM456.17,53.86h2.80v2.80h-2.80ZM457.90,51.78h2.80v2.80h-2.80ZM459.63,53.91h2.80v2.80h-2.80ZM461.37,55.85h2.80v2.80h-2.80ZM463.10,57.39h2.80v2.80h-2.80ZM464.50,56.33h2.80v2.80h-2.80ZM465.90,53.61h2.80v2.80h-2.80ZM467.30,52.80h2.80v2.80h-2.80ZM468.67,54.49h2.80v2.80h-2.80ZM470.03,55.49h2.80v2.80h-2.80ZM471.40,57.13h2.80v2.80h-2.80ZM472.80,55.15h2.80v2.80h-2.80ZM474.20,52.25h2.80v2.80h-2.80ZM475.60,47.97h2.80v2.80h-2.80ZM476.97,51.35h2.80v2.80h-2.80ZM478.33,53.08h2.80v2.80h-2.80ZM479.70,54.00h2.80v2.80h-2.80ZM481.10,55.65h2.80v2.80h-2.80ZM482.50,56.43h2.80v2.80h-2.80ZM483.90,57.16h2.80v2.80h-2.80ZM485.45,57.83h2.80v2.80h-2.80ZM487.00,58.36h2.80v2.80h-2.80ZM488.55,56.90h2.80v2.80h-2.80ZM490.10,57.74h2.80v2.80h-2.80ZM491.47,56.69h2.80v2.80h-2.80ZM492.83,54.87h2.80v2.80h-2.80ZM494.20,55.62h2.80v2.80h-2.80ZM495.45,56.05h2.80v2.80h-2.80ZM496.70,57.65h2.80v2.80h-2.80ZM498.16,57.03h2.80v2.80h-2.80ZM499.62,56.88h2.80v2.80h-2.80ZM501.08,55.89h2.80v2.80h-2.80ZM502.54,56.61h2.80v2.80h-2.80ZM504.00,56.66h2.80v2.80h-2.80ZM505.44,55.88h2.80v2.80h-2.80ZM506.88,54.39h2.80v2.80h-2.80ZM508.32,54.39h2.80v2.80h-2.80ZM509.76,53.21h2.80v2.80h-2.80ZM511.20,51.82h2.80v2.80h-2.80ZM512.75,54.84h2.80v2.80h-2.80ZM514.30,58.06h2.80v2.80h-2.80ZM516.03,57.60h2.80v2.80h-2.80ZM517.77,56.82h2.80v2.80h-2.80ZM519.50,56.79h2.80v2.80h-2.80ZM521.23,57.90h2.80v2.80h-2.80ZM522.97,58.27h2.80v2.80h-2.80ZM524.70,58.74h2.80v2.80h-2.80ZM526.43,59.53h2.80v2.80h-2.80ZM528.17,59.18h2.80v2.80h-2.80ZM529.90,59.83h2.80v2.80h-2.80ZM531.30,61.11h2.80v2.80h-2.80ZM532.70,61.10h2.80v2.80h-2.80ZM534.10,61.36h2.80v2.80h-2.80ZM536.10,59.70h2.80v2.80h-2.80ZM537.56,59.34h2.80v2.80h-2.80ZM539.02,58.63h2.80v2.80h-2.80ZM540.48,58.64h2.80v2.80h-2.80ZM541.94,58.96h2.80v2.80h-2.80ZM543.40,59.09h2.80v2.80h-2.80ZM545.15,58.65h2.80v2.80h-2.80ZM546.90,58.51h2.80v2.80h-2.80ZM548.56,59.14h2.80v2.80h-2.80ZM550.22,60.51h2.80v2.80h-2.80ZM551.88,59.45h2.80v2.80h-2.80ZM553.54,60.30h2.80v2.80h-2.80ZM555.20,59.99h2.80v2.80h-2.80ZM556.86,59.80h2.80v2.80h-2.80ZM558.52,59.50h2.80v2.80h-2.80ZM560.18,59.75h2.80v2.80h-2.80ZM561.84,59.06h2.80v2.80h-2.80ZM563.50,58.55h2.80v2.80h-2.80ZM565.16,58.94h2.80v2.80h-2.80ZM566.82,59.28h2.80v2.80h-2.80ZM568.48,60.14h2.80v2.80h-2.80ZM570.14,59.50h2.80v2.80h-2.80ZM571.80,59.64h2.80v2.80h-2.80ZM573.46,60.70h2.80v2.80h-2.80ZM575.12,60.82h2.80v2.80h-2.80ZM576.78,61.61h2.80v2.80h-2.80ZM578.44,60.50h2.80v2.80h-2.80ZM580.10,61.41h2.80v2.80h-2.80ZM581.85,61.74h2.80v2.80h-2.80ZM583.60,61.35h2.80v2.80h-2.80ZM585.27,63.23h2.80v2.80h-2.80ZM586.93,61.74h2.80v2.80h-2.80ZM588.60,61.49h2.80v2.80h-2.80ZM590.45,62.85h2.80v2.80h-2.80ZM592.30,62.83h2.80v2.80h-2.80ZM594.15,64.34h2.80v2.80h-2.80ZM596.00,64.39h2.80v2.80h-2.80ZM597.67,63.55h2.80v2.80h-2.80ZM599.33,63.00h2.80v2.80h-2.80ZM601.00,63.96h2.80v2.80h-2.80ZM602.67,63.45h2.80v2.80h-2.80ZM604.33,64.88h2.80v2.80h-2.80ZM606.00,64.63h2.80v2.80h-2.80ZM607.85,66.22h2.80v2.80h-2.80ZM609.70,65.60h2.80v2.80h-2.80ZM611.60,58.50h2.80v2.80h-2.80Z" fill="#1010e6"/>
<path d="M362.00,198.50 L364.40,191.53 L366.60,186.23 L368.00,177.26 L369.80,174.49 L371.10,170.79 L372.40,168.76 L373.70,158.54 L375.20,150.18 L376.45,143.36 L377.70,137.76 L379.30,128.98 L380.80,121.84 L382.30,114.27 L383.75,104.16 L385.20,95.21 L386.60,84.10 L388.30,74.10 L389.30,63.25 L391.40,49.75 L393.50,42.21 L395.05,40.88 L396.60,39.38 L398.15,36.52 L399.70,36.01 L401.70,31.41 L403.25,32.59 L404.80,31.38 L406.20,32.15 L407.60,33.63 L409.00,32.53 L410.77,31.48 L412.53,29.77 L414.30,28.86 L415.70,30.39 L417.10,29.92 L418.50,32.08 L420.05,33.12 L421.60,34.37 L422.97,34.84 L424.33,36.61 L425.70,36.53 L427.10,35.93 L428.50,34.86 L429.90,35.26 L431.45,33.89 L433.00,32.69 L434.55,31.71 L436.10,32.04 L438.05,30.01 L440.00,28.42 L441.25,27.77 L442.50,27.97 L443.70,31.01 L445.60,27.72 L447.15,27.60 L448.70,29.73 L449.95,27.22 L451.20,23.95 L452.50,27.19 L454.30,29.27 L456.20,34.89 L457.45,36.33 L458.70,38.66 L460.25,38.64 L461.80,37.80 L463.35,37.14 L464.90,35.27 L466.80,38.87 L468.60,33.94 L470.50,34.59 L472.40,36.50 L474.25,39.46 L476.10,39.61 L478.05,38.69 L480.00,35.92 L481.57,36.61 L483.15,38.50 L484.73,38.43 L486.30,38.80 L488.03,39.34 L489.77,40.66 L491.50,40.87 L492.87,40.79 L494.23,42.29 L495.60,44.83 L496.85,44.24 L498.10,45.82 L499.65,44.54 L501.20,44.26 L502.60,44.24 L504.00,44.94 L505.40,44.77 L507.13,44.08 L508.87,44.06 L510.60,43.86 L512.30,45.68 L514.00,44.59 L515.70,44.75 L517.43,47.70 L519.17,47.23 L520.90,49.69 L522.63,48.40 L524.37,49.50 L526.10,49.35 L527.83,51.26 L529.57,51.53 L531.30,52.28 L533.03,52.52 L534.77,52.74 L536.50,51.69 L538.23,52.87 L539.97,53.22 L541.70,53.22 L543.20,54.90 L544.70,54.66 L546.20,55.33 L547.75,54.64 L549.30,55.83 L550.85,56.20 L552.40,57.26 L554.06,56.57 L555.72,57.73 L557.38,58.63 L559.04,58.42 L560.70,60.01 L562.36,60.79 L564.02,60.59 L565.68,61.46 L567.34,61.79 L569.00,61.43 L570.66,62.32 L572.32,64.23 L573.98,63.53 L575.64,64.34 L577.30,64.27 L578.84,64.74 L580.38,64.83 L581.92,66.56 L583.46,66.35 L585.00,66.85 L586.67,68.34 L588.33,68.86 L590.00,70.76 L591.85,71.22 L593.70,72.24 L595.55,75.75 L597.40,78.11 L599.25,80.10 L601.10,81.07 L603.00,85.35 L604.90,88.31 L606.75,90.14 L608.60,90.64 L609.85,89.98 L611.10,91.87 L613.00,96.00" fill="none" stroke="#ea1010" stroke-width="1.2" stroke-linejoin="round"/>
<path d="M360.31,199.73L362.00,196.81L363.69,199.73ZM362.71,192.76L364.40,189.84L366.09,192.76ZM364.91,187.46L366.60,184.54L368.29,187.46ZM366.31,178.49L368.00,175.56L369.69,178.49ZM368.11,175.72L369.80,172.80L371.49,175.72ZM369.41,172.02L371.10,169.09L372.79,172.02ZM370.71,170.00L372.40,167.07L374.09,170.00ZM372.01,159.77L373.70,156.84L375.39,159.77ZM373.51,151.42L375.20,148.49L376.89,151.42ZM374.76,144.59L376.45,141.66L378.14,144.59ZM376.01,138.99L377.70,136.07L379.39,138.99ZM377.61,130.21L379.30,127.29L380.99,130.21ZM379.11,123.07L380.80,120.15L382.49,123.07ZM380.61,115.51L382.30,112.58L383.99,115.51ZM382.06,105.39L383.75,102.46L385.44,105.39ZM383.51,96.44L385.20,93.51L386.89,96.44ZM384.91,85.33L386.60,82.41L388.29,85.33ZM386.61,75.33L388.30,72.41L389.99,75.33ZM387.61,64.48L389.30,61.55L390.99,64.48ZM389.71,50.99L391.40,48.06L393.09,50.99ZM391.81,43.44L393.50,40.51L395.19,43.44ZM393.36,42.12L395.05,39.19L396.74,42.12ZM394.91,40.61L396.60,37.69L398.29,40.61ZM396.46,37.75L398.15,34.82L399.84,37.75ZM398.01,37.24L399.70,34.32L401.39,37.24ZM400.01,32.65L401.70,29.72L403.39,32.65ZM401.56,33.83L403.25,30.90L404.94,33.83ZM403.11,32.61L404.80,29.68L406.49,32.61ZM404.51,33.39L406.20,30.46L407.89,33.39ZM405.91,34.87L407.60,31.94L409.29,34.87ZM407.31,33.76L409.00,30.84L410.69,33.76ZM409.07,32.71L410.77,29.79L412.46,32.71ZM410.84,31.00L412.53,28.07L414.23,31.00ZM412.61,30.09L414.30,27.17L415.99,30.09ZM414.01,31.62L415.70,28.70L417.39,31.62ZM415.41,31.15L417.10,28.22L418.79,31.15ZM416.81,33.31L418.50,30.39L420.19,33.31ZM418.36,34.35L420.05,31.42L421.74,34.35ZM419.91,35.60L421.60,32.68L423.29,35.60ZM421.27,36.07L422.97,33.15L424.66,36.07ZM422.64,37.85L424.33,34.92L426.03,37.85ZM424.01,37.76L425.70,34.83L427.39,37.76ZM425.41,37.16L427.10,34.24L428.79,37.16ZM426.81,36.09L428.50,33.16L430.19,36.09ZM428.21,36.49L429.90,33.56L431.59,36.49ZM429.76,35.12L431.45,32.19L433.14,35.12ZM431.31,33.92L433.00,30.99L434.69,33.92ZM432.86,32.95L434.55,30.02L436.24,32.95ZM434.41,33.27L436.10,30.35L437.79,33.27ZM436.36,31.24L438.05,28.32L439.74,31.24ZM438.31,29.65L440.00,26.73L441.69,29.65ZM439.56,29.01L441.25,26.08L442.94,29.01ZM440.81,29.21L442.50,26.28L444.19,29.21ZM442.01,32.24L443.70,29.31L445.39,32.24ZM443.91,28.95L445.60,26.03L447.29,28.95ZM445.46,28.83L447.15,25.90L448.84,28.83ZM447.01,30.97L448.70,28.04L450.39,30.97ZM448.26,28.45L449.95,25.52L451.64,28.45ZM449.51,25.19L451.20,22.26L452.89,25.19ZM450.81,28.43L452.50,25.50L454.19,28.43ZM452.61,30.51L454.30,27.58L455.99,30.51ZM454.51,36.12L456.20,33.19L457.89,36.12ZM455.76,37.57L457.45,34.64L459.14,37.57ZM457.01,39.89L458.70,36.96L460.39,39.89ZM458.56,39.88L460.25,36.95L461.94,39.88ZM460.11,39.03L461.80,36.11L463.49,39.03ZM461.66,38.38L463.35,35.45L465.04,38.38ZM463.21,36.50L464.90,33.57L466.59,36.50ZM465.11,40.10L466.80,37.17L468.49,40.10ZM466.91,35.17L468.60,32.25L470.29,35.17ZM468.81,35.83L470.50,32.90L472.19,35.83ZM470.71,37.73L472.40,34.80L474.09,37.73ZM472.56,40.69L474.25,37.77L475.94,40.69ZM474.41,40.84L476.10,37.92L477.79,40.84ZM476.36,39.92L478.05,36.99L479.74,39.92ZM478.31,37.15L480.00,34.23L481.69,37.15ZM479.88,37.84L481.57,34.92L483.27,37.84ZM481.46,39.73L483.15,36.80L484.84,39.73ZM483.03,39.66L484.73,36.74L486.42,39.66ZM484.61,40.03L486.30,37.10L487.99,40.03ZM486.34,40.57L488.03,37.64L489.73,40.57ZM488.07,41.89L489.77,38.96L491.46,41.89ZM489.81,42.10L491.50,39.18L493.19,42.10ZM491.17,42.02L492.87,39.10L494.56,42.02ZM492.54,43.53L494.23,40.60L495.93,43.53ZM493.91,46.07L495.60,43.14L497.29,46.07ZM495.16,45.47L496.85,42.55L498.54,45.47ZM496.41,47.06L498.10,44.13L499.79,47.06ZM497.96,45.77L499.65,42.85L501.34,45.77ZM499.51,45.49L501.20,42.57L502.89,45.49ZM500.91,45.47L502.60,42.55L504.29,45.47ZM502.31,46.18L504.00,43.25L505.69,46.18ZM503.71,46.00L505.40,43.08L507.09,46.00ZM505.44,45.31L507.13,42.38L508.83,45.31ZM507.17,45.29L508.87,42.36L510.56,45.29ZM508.91,45.09L510.60,42.16L512.29,45.09ZM510.61,46.92L512.30,43.99L513.99,46.92ZM512.31,45.82L514.00,42.90L515.69,45.82ZM514.01,45.98L515.70,43.05L517.39,45.98ZM515.74,48.93L517.43,46.01L519.13,48.93ZM517.47,48.46L519.17,45.54L520.86,48.46ZM519.21,50.92L520.90,47.99L522.59,50.92ZM520.94,49.64L522.63,46.71L524.33,49.64ZM522.67,50.73L524.37,47.80L526.06,50.73ZM524.41,50.58L526.10,47.65L527.79,50.58ZM526.14,52.49L527.83,49.56L529.53,52.49ZM527.87,52.76L529.57,49.84L531.26,52.76ZM529.61,53.52L531.30,50.59L532.99,53.52ZM531.34,53.75L533.03,50.83L534.73,53.75ZM533.07,53.98L534.77,51.05L536.46,53.98ZM534.81,52.92L536.50,50.00L538.19,52.92ZM536.54,54.10L538.23,51.18L539.93,54.10ZM538.27,54.46L539.97,51.53L541.66,54.46ZM540.01,54.45L541.70,51.53L543.39,54.45ZM541.51,56.14L543.20,53.21L544.89,56.14ZM543.01,55.89L544.70,52.96L546.39,55.89ZM544.51,56.56L546.20,53.64L547.89,56.56ZM546.06,55.87L547.75,52.94L549.44,55.87ZM547.61,57.06L549.30,54.13L550.99,57.06ZM549.16,57.44L550.85,54.51L552.54,57.44ZM550.71,58.49L552.40,55.56L554.09,58.49ZM552.37,57.81L554.06,54.88L555.75,57.81ZM554.03,58.96L555.72,56.04L557.41,58.96ZM555.69,59.86L557.38,56.94L559.07,59.86ZM557.35,59.66L559.04,56.73L560.73,59.66ZM559.01,61.24L560.70,58.31L562.39,61.24ZM560.67,62.02L562.36,59.10L564.05,62.02ZM562.33,61.82L564.02,58.89L565.71,61.82ZM563.99,62.69L565.68,59.76L567.37,62.69ZM565.65,63.02L567.34,60.10L569.03,63.02ZM567.31,62.66L569.00,59.73L570.69,62.66ZM568.97,63.55L570.66,60.63L572.35,63.55ZM570.63,65.46L572.32,62.54L574.01,65.46ZM572.29,64.76L573.98,61.84L575.67,64.76ZM573.95,65.57L575.64,62.65L577.33,65.57ZM575.61,65.50L577.30,62.57L578.99,65.50ZM577.15,65.97L578.84,63.04L580.53,65.97ZM578.69,66.06L580.38,63.14L582.07,66.06ZM580.23,67.79L581.92,64.87L583.61,67.79ZM581.77,67.58L583.46,64.66L585.15,67.58ZM583.31,68.08L585.00,65.16L586.69,68.08ZM584.97,69.57L586.67,66.65L588.36,69.57ZM586.64,70.09L588.33,67.16L590.03,70.09ZM588.31,71.99L590.00,69.07L591.69,71.99ZM590.16,72.45L591.85,69.53L593.54,72.45ZM592.01,73.47L593.70,70.54L595.39,73.47ZM593.86,76.98L595.55,74.05L597.24,76.98ZM595.71,79.34L597.40,76.41L599.09,79.34ZM597.56,81.33L599.25,78.41L600.94,81.33ZM599.41,82.30L601.10,79.37L602.79,82.30ZM601.31,86.58L603.00,83.65L604.69,86.58ZM603.21,89.55L604.90,86.62L606.59,89.55ZM605.06,91.38L606.75,88.45L608.44,91.38ZM606.91,91.87L608.60,88.95L610.29,91.87ZM608.16,91.22L609.85,88.29L611.54,91.22ZM609.41,93.10L611.10,90.17L612.79,93.10ZM611.31,97.23L613.00,94.31L614.69,97.23Z" fill="#ea1010"/>
<text transform="translate(367.70,33.20) scale(1.05,1)" stroke="#000" fill="#000" stroke-width="0.05" font-size="19.2" text-anchor="start" >(b)</text>
<line x1="413.5" y1="121.50" x2="446.3" y2="121.50" stroke="#cc1818" stroke-width="1"/>
<path d="M428.00,122.50L430.00,119.50L432.00,122.50Z" fill="#ea1010"/>
<text transform="translate(450.80,126.10) scale(1.05,1)" stroke="#000" fill="#000" stroke-width="0.25" font-size="14" text-anchor="start" >Cell A: ITO + AuNM</text>
<line x1="413.5" y1="139.50" x2="446.3" y2="139.50" stroke="#1a1ab8" stroke-width="1"/>
<circle cx="430" cy="139.50" r="1.6" fill="#1010e6"/>
<text transform="translate(450.80,144.10) scale(1.05,1)" stroke="#000" fill="#000" stroke-width="0.25" font-size="14" text-anchor="start" >Cell B: ITO</text>
<text transform="translate(487.90,233.00) scale(1.058,1)" stroke="#000" fill="#000" stroke-width="0.25" font-size="16" text-anchor="middle" >Wavelength (nm)</text>
<text transform="translate(330.5,107.75) rotate(-90) scale(1.05,1)" stroke="#000" fill="#000" stroke-width="0.25" font-size="16" text-anchor="middle"><tspan font-style="italic">EQE</tspan> enhancement (%)</text>
</svg></body></html>
